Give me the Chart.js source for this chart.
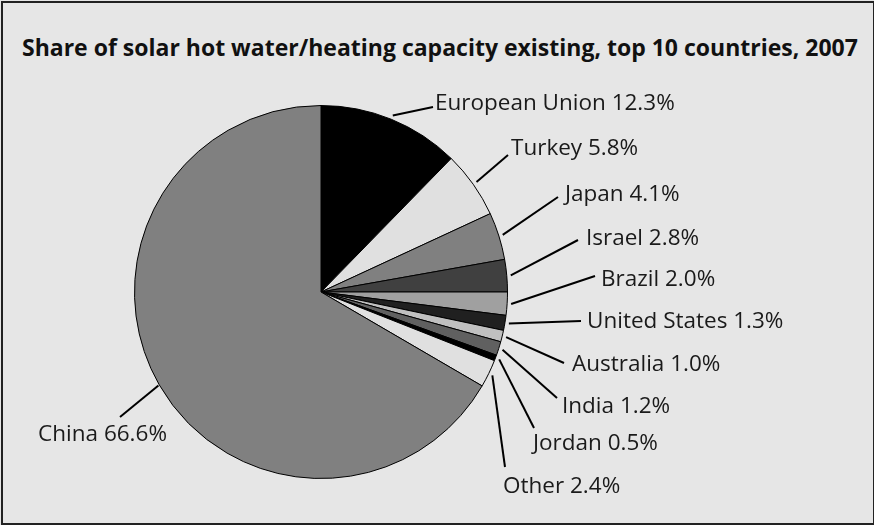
<!DOCTYPE html>
<html>
<head>
<meta charset="utf-8">
<script src="https://cdn.jsdelivr.net/npm/chart.js@4.4.1/dist/chart.umd.min.js"></script>
<style>
  html, body { margin: 0; padding: 0; background: #ffffff; }
  #wrap { position: relative; width: 874px; height: 525px; background: #e6e6e6; }
  #frame { position: absolute; left: 1px; top: 1px; width: 870px; height: 520px; border: 2px solid #222; }
  #title {
    position: absolute; left: 22px; top: 31px;
    font-family: "Open Sans", sans-serif; font-weight: bold; font-size: 23px;
    color: #111; white-space: nowrap;
  }
  canvas { position: absolute; left: 0; top: 0; }
</style>
</head>
<body>
<div id="wrap">
  <div id="frame"></div>
  <div id="title">Share of solar hot water/heating capacity existing, top 10 countries, 2007</div>
  <canvas id="pie" width="874" height="525"></canvas>
</div>
<script>
// Data
const countries = ["European Union", "Turkey", "Japan", "Israel", "Brazil", "United States",
  "Australia", "India", "Jordan", "Other", "China"];
const shares = [12.3, 5.8, 4.1, 2.8, 2.0, 1.3, 1.0, 1.2, 0.5, 2.4, 66.6];
const sliceColors = ["#000000", "#e0e0e0", "#808080", "#404040", "#a0a0a0", "#202020",
  "#c0c0c0", "#606060", "#000000", "#e0e0e0", "#808080"];

// Where each label sits, relative to the pie centre: [lineEndX, lineEndY, textX, textY, align]
const labelLayout = [
  [112, -185, 114, -188, "left"],
  [187, -137, 190, -143, "left"],
  [237, -95, 244, -97, "left"],
  [257, -52, 265, -53, "left"],
  [274, -16, 280, -12, "left"],
  [260, 29, 266, 30, "left"],
  [243, 71, 251, 73, "left"],
  [236, 106, 241, 115, "left"],
  [213, 136, 212, 152, "left"],
  [184, 175, 182, 195, "left"],
  [-201, 125, -154, 143, "right"],
];

// Draws leader lines and labels from the arc geometry
const leaderLabels = {
  id: "leaderLabels",
  afterDatasetsDraw(chart) {
    const ctx = chart.ctx;
    const arcs = chart.getDatasetMeta(0).data;
    ctx.save();
    ctx.font = "22.5px 'Open Sans', sans-serif";
    ctx.textBaseline = "middle";
    arcs.forEach((arc, i) => {
      const mid = (arc.startAngle + arc.endAngle) / 2;
      const r = arc.outerRadius + (i === 10 ? 1 : 4);
      const sx = arc.x + Math.cos(mid) * r;
      const sy = arc.y + Math.sin(mid) * r;
      const lay = labelLayout[i];
      ctx.strokeStyle = "#000";
      ctx.lineWidth = 2;
      ctx.beginPath();
      ctx.moveTo(sx, sy);
      ctx.lineTo(arc.x + lay[0], arc.y + lay[1]);
      ctx.stroke();
      ctx.fillStyle = "#1a1a1a";
      ctx.textAlign = lay[4];
      ctx.fillText(countries[i] + " " + shares[i].toFixed(1) + "%", arc.x + lay[2], arc.y + lay[3]);
    });
    ctx.restore();
  },
};

new Chart(document.getElementById("pie"), {
  type: "pie",
  data: {
    labels: countries,
    datasets: [
      {
        data: shares,
        backgroundColor: sliceColors,
        borderColor: "#000",
        borderWidth: 1,
      },
    ],
  },
  options: {
    responsive: false,
    animation: false,
    layout: { padding: { left: 134, top: 105, right: 366, bottom: 46 } },
    plugins: {
      legend: { display: false },
      tooltip: { enabled: false },
    },
  },
  plugins: [leaderLabels],
});
</script>
</body>
</html>
